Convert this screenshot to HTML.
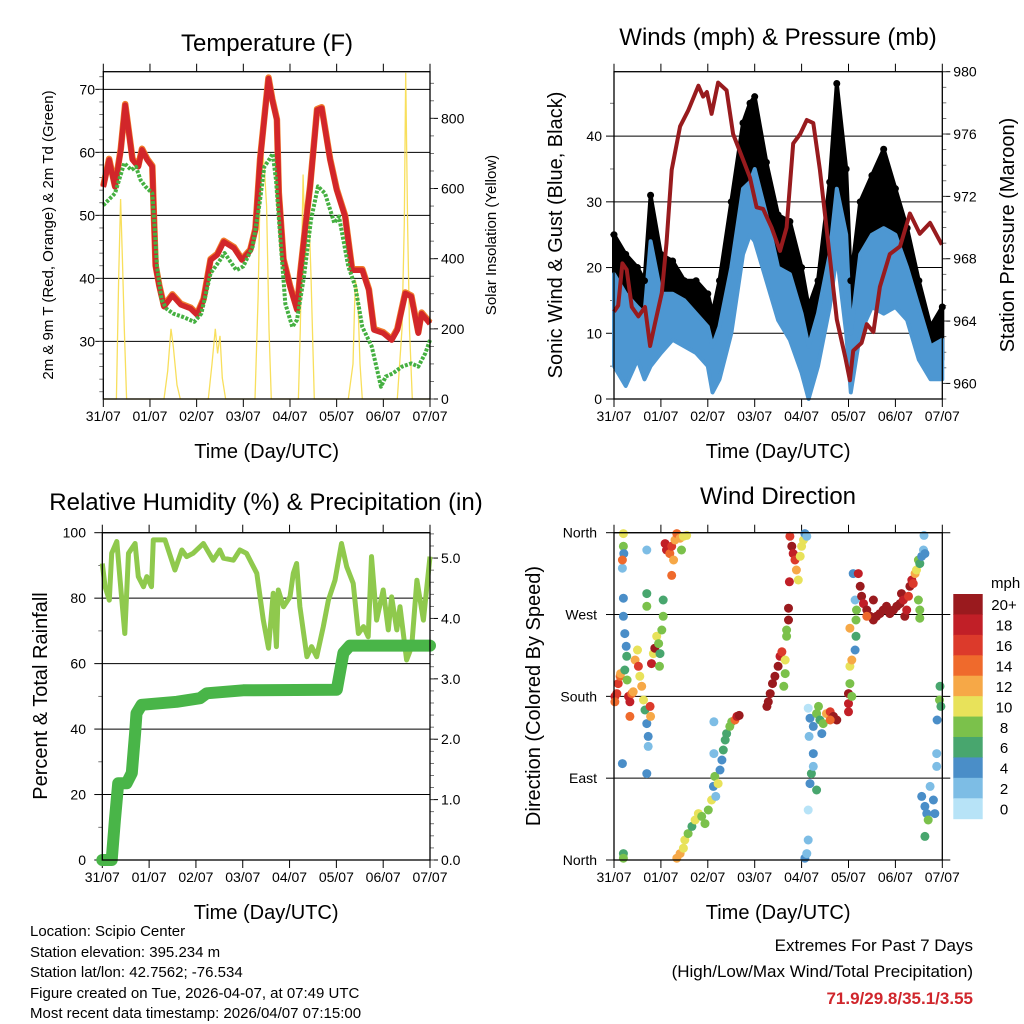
<!DOCTYPE html>
<html><head><meta charset="utf-8"><style>
html,body{margin:0;padding:0;background:#fff}
svg{display:block;font-family:"Liberation Sans",Arial,sans-serif}
</style></head><body>
<svg id="fig" width="1024" height="1024" viewBox="0 0 1024 1024" xmlns="http://www.w3.org/2000/svg">
<rect width="1024" height="1024" fill="#fff"/>
<g id="p1"></g>
<g id="p2"></g>
<g id="p3"></g>
<g id="p4"></g>
<g font-size="15" fill="#000">
<text x="30" y="936">Location: Scipio Center</text>
<text x="30" y="957">Station elevation: 395.234 m</text>
<text x="30" y="977">Station lat/lon: 42.7562; -76.534</text>
<text x="30" y="998">Figure created on Tue, 2026-04-07, at 07:49 UTC</text>
<text x="30" y="1018">Most recent data timestamp: 2026/04/07 07:15:00</text>
</g>
<g text-anchor="end" font-size="17">
<text x="973" y="951">Extremes For Past 7 Days</text>
<text x="973" y="977">(High/Low/Max Wind/Total Precipitation)</text>
<text x="973" y="1004" fill="#d0262c" font-weight="bold">71.9/29.8/35.1/3.55</text>
</g>
</svg>
<script>
// ---------- DATA ----------
const dayLabels = ["31/07","01/07","02/07","03/07","04/07","05/07","06/07","07/07"];
const tempTicks = [30,40,50,60,70];
const solarTicks = [0,200,400,600,800];
const windTicks = [0,10,20,30,40];
const presTicks = [960,964,968,972,976,980];
const rhTicks = [0,20,40,60,80,100];
const rainTicks = [0,1,2,3,4,5];
const dirTicks = [0,90,180,270,360];
const dirLabels = ["North","East","South","West","North"];

const tempTimes = [0,0.125,0.25,0.375,0.47,0.625,0.75,0.83,0.94,1.05,1.08,1.12,1.2,1.3,1.48,1.66,1.87,2.01,2.15,2.3,2.44,2.58,2.8,2.97,3.15,3.26,3.36,3.47,3.54,3.62,3.72,3.76,3.86,4.0,4.15,4.22,4.33,4.43,4.58,4.68,4.86,5.0,5.18,5.33,5.55,5.69,5.8,6.0,6.18,6.3,6.47,6.6,6.75,6.82,7.0];
const tempVals = [54.5,58.8,54.5,60.4,67.5,58.8,57.7,60.4,58.8,57.7,50.8,41.9,38.7,35.5,37.3,35.8,35.2,34.2,36.6,42.9,43.7,45.8,44.8,42.9,44.4,47.7,58.8,66.7,71.7,68.3,65.1,53.5,42.9,38.7,35.0,40.8,48.2,54.5,66.7,67.0,58.8,54.0,49.8,41.3,41.3,38.1,31.8,31.3,30.2,31.8,37.6,37.1,31.3,34.4,32.8];
const dewTimes = [0,0.25,0.45,0.6,0.7,0.8,0.9,1.05,1.1,1.15,1.25,1.35,1.5,1.7,1.95,2.1,2.3,2.5,2.6,2.85,3.0,3.2,3.35,3.45,3.55,3.63,3.7,3.8,3.9,4.05,4.15,4.3,4.45,4.6,4.75,4.95,5.05,5.25,5.4,5.55,5.75,5.95,6.05,6.2,6.4,6.6,6.75,6.9,7.0];
const dewVals = [51.6,53.5,58.3,57.2,57.7,55.6,54.6,53.5,48.2,41.9,36.6,35.2,34.4,33.9,33.1,34.4,40.8,42.9,44.0,41.3,41.9,45.0,51.9,57.7,58.8,59.8,55.6,45.6,36.0,32.3,33.4,40.3,49.3,54.6,53.5,48.8,49.8,41.9,38.7,32.3,29.2,22.8,24.4,24.9,26.0,26.5,26.0,28.1,30.2];
const solarTimes = [0,0.28,0.33,0.37,0.41,0.45,0.5,1.3,1.38,1.45,1.5,1.58,1.65,2.25,2.33,2.4,2.45,2.5,2.55,2.62,3.25,3.32,3.38,3.45,3.5,3.55,3.6,4.18,4.22,4.28,4.33,4.4,4.45,4.52,5.25,5.35,5.4,5.45,5.5,5.55,6.3,6.4,6.45,6.48,6.52,6.56,6.62,7.0];
const solarVals = [0,0,350,570,400,200,0,0,80,200,150,40,0,0,100,200,130,180,60,0,0,300,750,660,550,200,0,0,200,640,400,550,350,0,0,100,340,300,100,0,0,200,500,930,500,200,0,0];

const windTimes = [0,0.25,0.5,0.65,0.78,1.0,1.25,1.5,1.75,2.0,2.1,2.25,2.5,2.75,2.9,3.0,3.25,3.5,3.75,4.0,4.15,4.35,4.6,4.75,4.95,5.05,5.25,5.5,5.75,6.0,6.25,6.5,6.75,7.0];
const windLo = [5,2,6,3,5,7,9,8,7,5,1,3,10,22,25,24,18,12,9,4,0,5,14,22,10,1,10,14,13,14,12,6,3,3];
const windHi = [19,16,14,13,24,16,16,15,13,11,8,11,20,32,33,35,28,20,19,13,8,13,22,32,25,10,22,25,26,25,20,14,8,9];
const gustLo = [10,8,10,9,12,13,12,12,10,9,3,8,14,28,32,30,24,18,16,10,4,10,18,30,15,5,14,18,18,18,18,10,5,6];
const gustHi = [25,22,20,18,31,22,21,18,18,16,13,18,30,42,45,46,36,28,27,20,14,18,33,48,35,18,30,34,38,32,26,18,11,14];
const presTimes = [0,0.09,0.18,0.27,0.38,0.52,0.66,0.77,0.87,1.02,1.12,1.23,1.41,1.58,1.8,1.9,1.98,2.08,2.22,2.4,2.54,2.76,2.9,3.04,3.18,3.36,3.54,3.68,3.82,3.97,4.11,4.25,4.39,4.61,4.75,4.93,5.03,5.1,5.28,5.39,5.53,5.67,5.88,6.1,6.31,6.52,6.74,6.99];
const presVals = [964.6,965.0,967.7,967.3,964.9,964.3,964.9,962.4,963.8,965.8,969.0,973.7,976.5,977.5,979.1,978.4,978.7,977.3,979.3,978.8,976.0,974.3,973.2,971.3,971.2,970.0,968.5,970.0,975.4,976.0,976.9,976.7,973.7,967.9,964.1,961.7,960.2,962.1,962.6,963.8,963.3,966.2,968.3,968.8,970.9,969.6,970.3,968.9];

const rhTimes = [0,0.06,0.15,0.2,0.31,0.38,0.48,0.56,0.7,0.77,0.88,0.95,1.05,1.09,1.34,1.55,1.7,1.8,1.94,2.16,2.37,2.51,2.59,2.8,2.94,3.08,3.3,3.44,3.55,3.65,3.72,3.76,3.87,4.01,4.08,4.15,4.22,4.37,4.47,4.58,4.72,4.83,4.97,5.11,5.22,5.36,5.47,5.58,5.68,5.75,5.86,6.0,6.11,6.18,6.29,6.36,6.5,6.61,6.72,6.86,7.0];
const rhVals = [90.6,83.5,79.4,93.7,97.3,85.5,69.2,93.7,96.7,86.6,83.5,86.6,83.5,97.8,97.8,88.6,94.7,92.7,93.7,96.7,91.6,94.7,92.2,91.6,94.7,93.7,87.6,73.3,64.7,81.5,65.2,82.5,77.4,80.4,87.6,90.6,77.4,62.1,65.2,62.1,71.3,79.4,85.5,96.7,89.6,84.5,69.2,71.3,68.2,92.7,73.3,82.5,70.3,80.4,70.3,77.4,61.1,65.2,85.5,73.3,92.7];
const rainTimes = [0,0.2,0.27,0.34,0.52,0.63,0.7,0.73,0.84,1.59,2.09,2.23,3.01,5.01,5.15,5.29,7.0];
const rainVals = [0,0,0.66,1.27,1.27,1.44,2.1,2.43,2.57,2.62,2.68,2.76,2.81,2.82,3.43,3.55,3.55];

const dirTimes = [0.02,0.06,0.02,0.09,0.13,0.14,0.20,0.20,0.21,0.18,0.18,0.20,0.20,0.23,0.26,0.27,0.23,0.28,0.31,0.34,0.38,0.41,0.34,0.45,0.50,0.52,0.55,0.59,0.63,0.66,0.70,0.73,0.73,0.77,0.78,0.80,0.84,0.87,0.91,0.95,0.97,0.98,1.02,1.05,0.70,0.70,1.05,0.70,0.18,0.70,0.20,0.20,
1.09,1.12,1.19,1.23,1.27,1.30,1.34,1.41,1.48,1.55,1.23,1.44,
1.34,1.41,1.48,1.51,1.58,1.66,1.73,1.80,1.87,1.94,2.01,2.08,2.12,2.15,2.22,2.26,2.30,2.33,2.37,2.40,2.47,2.51,2.58,2.62,2.67,2.13,2.13,2.17,
3.26,3.29,3.33,3.38,3.43,3.50,3.54,3.58,3.65,3.65,3.62,3.68,3.68,3.72,3.72,3.74,
3.75,3.79,3.82,3.86,3.89,3.93,3.97,4.00,4.04,4.07,4.11,
4.07,4.11,4.14,4.14,4.18,4.21,4.25,4.25,4.32,4.16,4.18,4.25,4.32,4.36,4.39,4.43,4.46,4.53,4.61,4.68,4.75,4.61,4.14,
5.00,5.00,5.00,5.07,5.03,5.03,5.07,5.14,5.16,5.16,5.03,5.10,5.14,5.17,
5.21,5.25,5.28,5.32,5.39,5.46,5.53,5.60,5.67,5.74,5.81,5.88,5.96,6.03,6.10,6.13,6.17,6.20,6.24,6.28,6.31,6.35,6.38,6.42,6.45,6.49,6.52,6.56,6.60,6.63,6.49,6.52,5.39,5.53,6.52,
6.56,6.63,6.67,6.74,6.81,6.84,6.63,6.70,6.88,6.88,6.89,6.94,6.95,6.97,6.61];
const dirVals = [180,183,174,194,202,205,359,345,337,321,330,288,268,249,235,224,209,198,180,174,183,185,158,220,231,213,202,191,176,165,150,136,125,169,158,216,227,233,246,238,213,227,253,268,293,279,286,95,106,341,7,2,
348,341,337,345,330,352,359,354,356,357,313,341,
2,7,13,22,29,37,44,51,48,40,55,66,81,92,84,99,110,121,132,139,147,152,154,158,159,152,117,70,
169,174,183,194,202,213,224,229,220,205,191,253,246,264,277,306,
356,345,337,330,319,308,334,345,352,359,356,
2,7,22,55,84,95,103,117,77,136,156,147,161,169,154,139,150,161,163,158,154,154,167,
183,172,163,180,194,213,220,231,246,264,255,315,286,275,
315,301,290,282,275,268,264,268,271,275,279,271,275,279,282,293,286,268,275,290,301,308,304,315,319,330,326,334,341,337,286,275,268,286,266,
70,59,51,81,66,51,26,44,117,103,154,176,191,169,357];
const dirSpeeds = [18,17,14,16,14,12,10,8,4,2,15,4,4,4,4,6,6,8,18,18,14,12,14,12,10,16,10,12,10,6,4,4,2,16,12,18,10,20,10,8,8,6,8,8,6,8,6,4,4,2,6,8,
18,18,14,16,12,12,14,12,10,10,14,8,
12,12,10,10,8,6,10,10,8,8,8,10,4,8,10,4,4,6,6,6,8,8,14,18,20,2,2,2,
20,20,20,20,20,20,18,16,10,8,8,8,8,20,20,18,
16,20,18,16,12,10,10,10,10,4,2,
4,2,2,0,4,6,2,4,6,2,4,4,8,8,6,4,8,12,16,20,20,14,0,
20,18,18,8,8,10,12,4,6,8,12,4,2,8,
18,20,20,18,20,20,20,20,20,20,20,20,20,20,20,20,18,20,18,16,20,18,16,12,10,8,6,4,2,4,8,8,14,20,8,
4,4,4,2,4,4,6,8,2,2,4,8,6,6,2];
const cbLabels = ["20+","18","16","14","12","10","8","6","4","2","0"];
const cbColors = ["#9a1a1e","#c11f27","#dc3a2b","#ef6a2c","#f6a847","#e8e25a","#7bc14b","#48a66e","#4a8ec8","#7dbde5","#b7e3f7"];

// ---------- HELPERS ----------
const NS = "http://www.w3.org/2000/svg";
function mk(parent, tag, attrs, text){
  const e = document.createElementNS(NS, tag);
  for (const k in attrs) e.setAttribute(k, attrs[k]);
  if (text !== undefined) e.textContent = text;
  parent.appendChild(e); return e;
}
function lin(d0,d1,r0,r1){ return v => r0 + (v-d0)/(d1-d0)*(r1-r0); }
function pathOf(xs, ys, fx, fy){
  return xs.map((t,i)=>(i?"L":"M")+fx(t).toFixed(1)+","+fy(ys[i]).toFixed(1)).join("");
}

function frame(g, P, opts){
  for (let i=0;i<dayLabels.length;i++){
    const x = P.fx(i);
    const t1 = mk(g,"line",{x1:x,x2:x,y1:P.y0,y2:P.y0-8,stroke:"#000","stroke-width":1});
    
    
    const t2 = mk(g,"line",{x1:x,x2:x,y1:P.y1,y2:P.y1+8,stroke:"#000","stroke-width":1});
    
    
    const lb = mk(g,"text",{x:x,y:P.y1+22,"font-size":14,"text-anchor":"middle"},dayLabels[i]);
    
    
  }
  const xt = mk(g,"text",{x:(P.x0+P.x1)/2,y:P.y1+59,"font-size":20,"text-anchor":"middle"},"Time (Day/UTC)");
  
  
  const tt = mk(g,"text",{x:opts.titleX,y:opts.titleY,"font-size":24,"text-anchor":"middle"},opts.title);
  
  
}
function box(g,P){
  const r = mk(g,"rect",{x:P.x0,y:P.y0,width:P.x1-P.x0,height:P.y1-P.y0,fill:"none",stroke:"#000","stroke-width":1.3});
  
  
}
function leftAxis(g,P,ticks,fy,labels,fs,lx,grid){
  ticks.forEach((v,i)=>{
    const y = fy(v);
    if (grid){
      const gl = mk(g,"line",{x1:P.x0,x2:P.x1+(grid===2?8:0),y1:y,y2:y,stroke:"#000","stroke-width":1});
      
      
    }
    const tk = mk(g,"line",{x1:P.x0,x2:P.x0-8,y1:y,y2:y,stroke:"#000"});
    
    
    const lb = mk(g,"text",{x:lx,y:y+5,"font-size":fs,"text-anchor":"end"},labels?labels[i]:String(v));
    
    
  });
}
function rightAxis(g,P,ticks,fy,fmt,minorStep,dom){
  ticks.forEach(v=>{
    const y = fy(v);
    const tk = mk(g,"line",{x1:P.x1,x2:P.x1+8,y1:y,y2:y,stroke:"#000"});
    
    
    const lb = mk(g,"text",{x:P.x1+11,y:y+5,"font-size":14},fmt(v));
    
    
  });
  if (minorStep){
    for (let v=dom[0]; v<=dom[1]+1e-9; v+=minorStep){
      const y = fy(v);
      const mt = mk(g,"line",{x1:P.x1,x2:P.x1+4,y1:y,y2:y,stroke:"#555","stroke-width":0.8});
      
      
    }
  }
}
function yTitle(g,x,y,txt,fs){
  const t = mk(g,"text",{x:x,y:y,"font-size":fs,"text-anchor":"middle",transform:`rotate(-90 ${x} ${y})`},txt);
  
  
}

// ---------- PANEL 1: TEMPERATURE ----------
(function(){
  const g = document.getElementById("p1");
  const P = {x0:103.3,x1:430,y0:71.7,y1:399};
  P.fx = lin(0,7,P.x0,P.x1);
  const fy = lin(20.85,72.8,P.y1,P.y0);
  const fs = lin(0,933,P.y1,P.y0);
  frame(g,P,{title:"Temperature (F)",titleX:267,titleY:51});
  leftAxis(g,P,tempTicks,fy,null,14,95,1);
  for (let v=22; v<=72; v+=2){ const mt=mk(g,"line",{x1:P.x0,x2:P.x0-4,y1:fy(v),y2:fy(v),stroke:"#555","stroke-width":0.8});   }
  rightAxis(g,P,solarTicks,fs,v=>String(v),50,[0,900]);
  const s = mk(g,"path",{d:pathOf(solarTimes,solarVals,P.fx,fs),fill:"none",stroke:"#f7dc4a","stroke-width":1.3,"stroke-opacity":0.9});
  
  
  const o = mk(g,"path",{d:pathOf(tempTimes,tempVals,P.fx,fy),fill:"none",stroke:"#f07a2a","stroke-width":6.5,"stroke-linejoin":"round",transform:"translate(0,-1)"});
  
  
  const r = mk(g,"path",{d:pathOf(tempTimes,tempVals,P.fx,fy),fill:"none",stroke:"#d2262a","stroke-width":5.5,"stroke-linejoin":"round"});
  
  
  const d = mk(g,"path",{d:pathOf(dewTimes,dewVals,P.fx,fy),fill:"none",stroke:"#45b041","stroke-width":4,"stroke-dasharray":"3 1.5","stroke-linejoin":"round"});
  
  
  box(g,P);
  yTitle(g,53,235,"2m & 9m T (Red, Orange) & 2m Td (Green)",15);
  yTitle(g,496,235,"Solar Insolation (Yellow)",15);
})();

// ---------- PANEL 2: WINDS & PRESSURE ----------
(function(){
  const g = document.getElementById("p2");
  const P = {x0:614,x1:942.3,y0:71.7,y1:399};
  P.fx = lin(0,7,P.x0,P.x1);
  const fy = lin(0,49.8,P.y1,P.y0);
  const fp = lin(959,980,P.y1,P.y0);
  frame(g,P,{title:"Winds (mph) & Pressure (mb)",titleX:778,titleY:45});
  leftAxis(g,P,windTicks,fy,null,14,602,1);
  for (let v=5; v<=45; v+=10){ const mt=mk(g,"line",{x1:P.x0,x2:P.x0-4,y1:fy(v),y2:fy(v),stroke:"#555","stroke-width":0.8});   }
  rightAxis(g,P,presTicks,fp,v=>String(v),1,[959,980]);
  function band(lo,hi,color,name){
    const top = windTimes.map((t,i)=>[P.fx(t),fy(hi[i])]);
    const bot = windTimes.map((t,i)=>[P.fx(t),fy(lo[i])]).reverse();
    const pts = top.concat(bot).map(p=>p[0].toFixed(1)+","+p[1].toFixed(1)).join(" ");
    const b = mk(g,"polygon",{points:pts,fill:color,stroke:color,"stroke-width":4,"stroke-linejoin":"round"});
    
    
  }
  band(gustLo,gustHi,"#000","gust-scatter-band");
  band(windLo,windHi,"#4d97d2","wind-scatter-band");
  windTimes.forEach((t,i)=>{
    const c = mk(g,"circle",{cx:P.fx(t),cy:fy(gustHi[i]),r:3.5,fill:"#000"});
    
    
  });
  const p = mk(g,"path",{d:pathOf(presTimes,presVals,P.fx,fp),fill:"none",stroke:"#981b1e","stroke-width":4,"stroke-linejoin":"round"});
  
  
  box(g,P);
  yTitle(g,562,235,"Sonic Wind & Gust (Blue, Black)",20);
  yTitle(g,1014,235,"Station Pressure (Maroon)",20);
})();

// ---------- PANEL 3: RH & PRECIP ----------
(function(){
  const g = document.getElementById("p3");
  const P = {x0:102.3,x1:430,y0:532.7,y1:860};
  P.fx = lin(0,7,P.x0,P.x1);
  const fy = lin(0,100,P.y1,P.y0);
  const fr = lin(0,5.42,P.y1,P.y0);
  frame(g,P,{title:"Relative Humidity (%) & Precipitation (in)",titleX:266,titleY:510});
  leftAxis(g,P,rhTicks,fy,null,14,86,1);
  for (let v=10; v<=90; v+=20){ const mt=mk(g,"line",{x1:P.x0,x2:P.x0-4,y1:fy(v),y2:fy(v),stroke:"#555","stroke-width":0.8});   }
  rightAxis(g,P,rainTicks,fr,v=>v.toFixed(1),0.2,[0,5.4]);
  const rh = mk(g,"path",{d:pathOf(rhTimes,rhVals,P.fx,fy),fill:"none",stroke:"#8fc94d","stroke-width":5,"stroke-linejoin":"round"});
  
  
  const rn = mk(g,"path",{d:pathOf(rainTimes,rainVals,P.fx,fr),fill:"none",stroke:"#49b548","stroke-width":12,"stroke-linejoin":"round","stroke-linecap":"round"});
  
  
  box(g,P);
  yTitle(g,47,696,"Percent & Total Rainfall",20);
})();

// ---------- PANEL 4: WIND DIRECTION ----------
(function(){
  const g = document.getElementById("p4");
  const P = {x0:614,x1:942.3,y0:532.7,y1:860};
  P.fx = lin(0,7,P.x0,P.x1);
  const fy = lin(0,360,P.y1,P.y0);
  frame(g,P,{title:"Wind Direction",titleX:778,titleY:504});
  leftAxis(g,P,dirTicks,fy,dirLabels,14,597,2);
  function colorFor(s){ let idx = Math.min(10, Math.floor(s/2)); return cbColors[10-idx]; }
  dirTimes.forEach((t,i)=>{
    const c = mk(g,"circle",{cx:P.fx(t).toFixed(1),cy:fy(dirVals[i]).toFixed(1),r:4.5,fill:colorFor(dirSpeeds[i])});
    
    
  });
  box(g,P);
  yTitle(g,540,696,"Direction (Colored By Speed)",20);
  const cb = mk(g,"g",{});
  
  
  const bh = (818.7-594)/cbColors.length;
  cbColors.forEach((c,i)=>{
    const r = mk(cb,"rect",{x:953.3,y:594+i*bh,width:29.4,height:bh+0.5,fill:c});
    
    
    const t = mk(cb,"text",{x:1004,y:594+i*bh+bh/2+6,"font-size":15,"text-anchor":"middle"},cbLabels[i]);
    
    
  });
  const u = mk(cb,"text",{x:991,y:588,"font-size":15},"mph");
  
  
})();
</script>
</body></html>
